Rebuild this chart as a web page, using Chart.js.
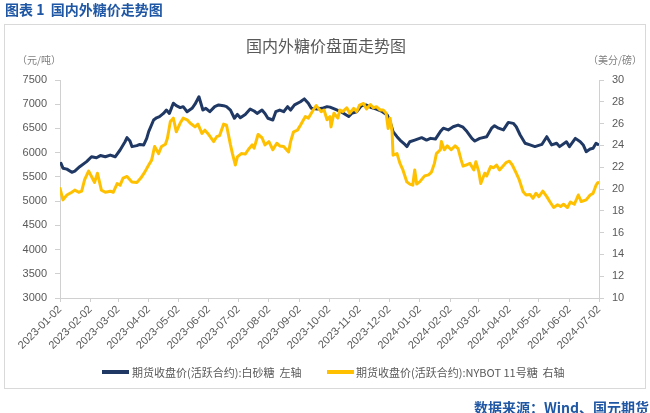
<!DOCTYPE html>
<html>
<head>
<meta charset="utf-8">
<script src="https://cdn.jsdelivr.net/npm/chart.js@4/dist/chart.umd.min.js"></script>
<style>
  html, body { margin:0; padding:0; background:#fff; }
  #wrap { position:relative; width:650px; height:413px; overflow:hidden; font-family:"Noto Sans CJK SC","Noto Sans",sans-serif; }
  #c { position:absolute; left:0; top:0; }
  .t { position:absolute; white-space:nowrap; }
  #box { position:absolute; left:4px; top:24px; width:642px; height:365px; border:1px solid #d9d9d9; box-sizing:border-box; }
  .sw { position:absolute; height:4px; }
</style>
</head>
<body>
<div id="wrap">
  <div id="box"></div>
  <canvas id="c" width="650" height="413"></canvas>
  <div class="t" style="left:5px;top:0px;font-size:14px;line-height:18px;font-weight:bold;color:#1f57a4;">图表 1&nbsp;&nbsp;国内外糖价走势图</div>
  <div class="t" style="left:0;width:652px;text-align:center;top:35px;font-size:16px;line-height:20px;color:#595959;">国内外糖价盘面走势图</div>
  <div class="t" style="left:17px;top:53px;font-size:10px;line-height:14px;color:#7f7f7f;">（元/吨）</div>
  <div class="t" style="left:588px;top:53px;font-size:10px;line-height:14px;color:#7f7f7f;">（美分/磅）</div>
  <div class="sw" style="left:102px;top:370px;width:27px;background:#1f3864;"></div>
  <div class="t" style="left:132px;top:364px;font-size:11px;line-height:16px;color:#595959;">期货收盘价(活跃合约):白砂糖&nbsp;&nbsp;左轴</div>
  <div class="sw" style="left:327px;top:370px;width:27px;background:#ffc000;"></div>
  <div class="t" style="left:356px;top:364px;font-size:11px;line-height:16px;color:#595959;">期货收盘价(活跃合约):NYBOT 11号糖&nbsp;&nbsp;右轴</div>
  <div class="t" style="right:1px;top:398px;font-size:14px;line-height:18px;font-weight:bold;color:#1f57a4;">数据来源：Wind、国元期货</div>
</div>
<script>
const monthTicks = ['2023-01-02','2023-02-02','2023-03-02','2023-04-02','2023-05-02','2023-06-02','2023-07-02','2023-08-02','2023-09-02','2023-10-02','2023-11-02','2023-12-02','2024-01-02','2024-02-02','2024-03-02','2024-04-02','2024-05-02','2024-06-02','2024-07-02'];

const sugarDates = ['2023-01-03','2023-01-05','2023-01-09','2023-01-14','2023-01-17','2023-01-22','2023-01-29','2023-02-03','2023-02-08','2023-02-12','2023-02-17','2023-02-22','2023-02-27','2023-03-04','2023-03-09','2023-03-11','2023-03-14','2023-03-16','2023-03-21','2023-03-24','2023-03-28','2023-03-31','2023-04-02','2023-04-07','2023-04-10','2023-04-13','2023-04-17','2023-04-20','2023-04-23','2023-04-25','2023-04-27','2023-04-30','2023-05-04','2023-05-07','2023-05-11','2023-05-16','2023-05-19','2023-05-23','2023-05-27','2023-05-30','2023-06-03','2023-06-08','2023-06-12','2023-06-17','2023-06-20','2023-06-24','2023-06-28','2023-07-01','2023-07-04','2023-07-09','2023-07-14','2023-07-18','2023-07-21','2023-07-26','2023-07-29','2023-08-01','2023-08-06','2023-08-09','2023-08-13','2023-08-17','2023-08-21','2023-08-24','2023-08-28','2023-09-03','2023-09-07','2023-09-11','2023-09-14','2023-09-20','2023-09-25','2023-09-30','2023-10-03','2023-10-08','2023-10-15','2023-10-22','2023-10-25','2023-10-30','2023-11-04','2023-11-09','2023-11-14','2023-11-19','2023-11-24','2023-11-30','2023-12-03','2023-12-06','2023-12-10','2023-12-13','2023-12-18','2023-12-20','2023-12-23','2023-12-28','2024-01-04','2024-01-09','2024-01-13','2024-01-18','2024-01-23','2024-01-26','2024-01-31','2024-02-05','2024-02-10','2024-02-15','2024-02-19','2024-02-24','2024-02-27','2024-03-03','2024-03-10','2024-03-15','2024-03-18','2024-03-22','2024-03-27','2024-04-01','2024-04-06','2024-04-09','2024-04-13','2024-04-18','2024-04-23','2024-04-28','2024-05-05','2024-05-10','2024-05-15','2024-05-20','2024-05-23','2024-05-30','2024-06-02','2024-06-08','2024-06-13','2024-06-16','2024-06-19','2024-06-23','2024-06-26','2024-06-29','2024-07-01'];
const sugarValues = [5780,5680,5660,5595,5620,5710,5815,5915,5895,5940,5915,5950,5915,6055,6225,6310,6240,6125,6145,6170,6160,6295,6435,6675,6720,6745,6810,6880,6810,6915,7020,6970,6930,6950,6845,6915,7000,7155,6880,6915,6845,6950,6985,6970,6950,6880,6710,6790,6720,6790,6900,6860,6810,6880,6810,6710,6675,6845,6880,6845,6950,6880,6985,7050,7110,7020,6915,6900,6915,6950,6940,6900,6835,6745,6810,6845,6970,6985,6930,6900,6860,6780,6640,6435,6330,6260,6170,6125,6225,6260,6310,6260,6295,6280,6435,6505,6470,6535,6570,6525,6435,6295,6240,6295,6330,6505,6555,6505,6470,6625,6605,6535,6365,6195,6160,6125,6170,6330,6160,6195,6125,6225,6125,6295,6225,6160,6020,6075,6090,6195,6170];

const nybotDates = ['2023-01-02','2023-01-05','2023-01-09','2023-01-14','2023-01-17','2023-01-21','2023-01-24','2023-01-27','2023-01-31','2023-02-03','2023-02-06','2023-02-09','2023-02-13','2023-02-17','2023-02-22','2023-02-25','2023-03-01','2023-03-04','2023-03-07','2023-03-11','2023-03-16','2023-03-21','2023-03-25','2023-03-29','2023-04-02','2023-04-05','2023-04-08','2023-04-12','2023-04-15','2023-04-19','2023-04-21','2023-04-24','2023-04-27','2023-04-30','2023-05-04','2023-05-07','2023-05-11','2023-05-14','2023-05-19','2023-05-22','2023-05-26','2023-05-29','2023-06-01','2023-06-07','2023-06-10','2023-06-13','2023-06-17','2023-06-20','2023-06-24','2023-06-26','2023-06-29','2023-07-01','2023-07-05','2023-07-09','2023-07-12','2023-07-16','2023-07-18','2023-07-22','2023-07-26','2023-07-29','2023-08-02','2023-08-06','2023-08-10','2023-08-13','2023-08-17','2023-08-22','2023-08-24','2023-08-27','2023-08-31','2023-09-03','2023-09-08','2023-09-11','2023-09-16','2023-09-19','2023-09-24','2023-09-27','2023-09-30','2023-10-03','2023-10-04','2023-10-07','2023-10-11','2023-10-13','2023-10-16','2023-10-20','2023-10-23','2023-10-27','2023-10-30','2023-11-02','2023-11-06','2023-11-09','2023-11-13','2023-11-16','2023-11-19','2023-11-23','2023-11-26','2023-11-29','2023-12-01','2023-12-03','2023-12-05','2023-12-06','2023-12-10','2023-12-13','2023-12-16','2023-12-20','2023-12-23','2023-12-26','2023-12-28','2023-12-30','2024-01-02','2024-01-07','2024-01-11','2024-01-14','2024-01-17','2024-01-19','2024-01-23','2024-01-24','2024-01-27','2024-01-30','2024-02-03','2024-02-07','2024-02-10','2024-02-13','2024-02-15','2024-02-18','2024-02-22','2024-02-26','2024-02-28','2024-03-02','2024-03-04','2024-03-08','2024-03-10','2024-03-14','2024-03-17','2024-03-20','2024-03-23','2024-03-26','2024-03-30','2024-04-02','2024-04-05','2024-04-09','2024-04-12','2024-04-16','2024-04-19','2024-04-23','2024-04-26','2024-04-29','2024-05-02','2024-05-06','2024-05-10','2024-05-13','2024-05-17','2024-05-21','2024-05-24','2024-05-27','2024-05-31','2024-06-03','2024-06-07','2024-06-11','2024-06-14','2024-06-19','2024-06-23','2024-06-26','2024-06-29','2024-07-01'];
const nybotValues = [20.05,19.0,19.45,19.7,19.9,19.7,19.8,20.85,21.65,21.15,20.6,21.45,19.9,19.7,19.8,19.7,20.5,20.35,21.0,21.15,20.65,20.6,21.0,21.55,22.2,22.65,23.9,23.25,23.9,24.1,24.65,26.2,26.5,25.25,26.05,26.5,26.35,26.05,25.7,25.95,25.1,25.4,25.1,24.35,24.8,24.9,25.95,25.85,24.05,23.25,22.2,22.95,23.25,23.2,23.6,24.05,23.75,25.0,24.7,24.05,24.35,23.6,24.2,23.95,23.9,23.4,24.35,25.25,25.4,25.85,26.65,26.5,27.25,27.65,27.1,27.25,26.35,26.65,25.7,26.95,26.5,27.25,27.1,27.45,26.95,27.4,27.1,27.7,27.85,27.35,27.75,27.45,27.55,27.25,27.25,26.95,25.55,26.5,25.25,23.1,23.25,22.35,21.75,20.65,20.45,20.35,21.75,20.45,20.65,21.2,21.3,21.55,22.35,23.25,23.6,24.35,23.6,23.95,23.6,23.95,23.7,22.7,22.1,22.2,22.35,21.75,22.5,21.6,20.5,21.45,21.2,22.05,21.95,22.2,21.75,22.05,22.45,22.55,22.2,21.45,20.85,19.75,19.45,19.5,19.15,19.6,19.3,19.8,19.3,18.85,18.3,18.55,18.4,18.6,18.3,18.8,18.6,19.45,18.85,19.0,19.45,19.6,20.35,20.6];

const leftMin = 3000, leftMax = 7500, leftStep = 500;
const rightMin = 10, rightMax = 30, rightStep = 2;

const origin = Date.UTC(2023, 0, 2);
function dayOf(s) {
  const p = s.split('-').map(Number);
  return (Date.UTC(p[0], p[1] - 1, p[2]) - origin) / 86400000;
}
const tickDays = monthTicks.map(dayOf);
const labelByDay = {};
monthTicks.forEach((s, i) => { labelByDay[tickDays[i]] = s; });

const sugarData = sugarDates.map((d, i) => ({ x: dayOf(d), y: sugarValues[i] }));
const nybotData = nybotDates.map((d, i) => ({ x: dayOf(d), y: nybotValues[i] }));

const axisGrey = '#d0d0d0';
const txt = '#595959';
const numFont = { family: '"Liberation Sans", Arial, sans-serif', size: 11 };

new Chart(document.getElementById('c'), {
  type: 'line',
  data: {
    datasets: [
      { label: '期货收盘价(活跃合约):白砂糖 左轴', data: sugarData, yAxisID: 'yL',
        borderColor: '#1f3864', borderWidth: 3, pointRadius: 0, tension: 0, order: 2,
        borderJoinStyle: 'round', borderCapStyle: 'round' },
      { label: '期货收盘价(活跃合约):NYBOT 11号糖 右轴', data: nybotData, yAxisID: 'yR',
        borderColor: '#ffc000', borderWidth: 3, pointRadius: 0, tension: 0, order: 1,
        borderJoinStyle: 'round', borderCapStyle: 'round' }
    ]
  },
  options: {
    responsive: false,
    animation: false,
    devicePixelRatio: 1,
    layout: { autoPadding: false, padding: { left: 0, right: 0, top: 80, bottom: 0 } },
    plugins: { legend: { display: false }, tooltip: { enabled: false }, title: { display: false } },
    scales: {
      x: {
        type: 'linear',
        min: 0, max: tickDays[tickDays.length - 1],
        afterBuildTicks: (s) => { s.ticks = tickDays.map(v => ({ value: v })); },
        afterFit: (s) => { s.height = 115; },
        grid: { drawOnChartArea: false, drawTicks: true, tickLength: 4, color: axisGrey },
        border: { display: true, color: axisGrey, width: 1 },
        ticks: {
          autoSkip: false, maxRotation: 45, minRotation: 45, padding: 1,
          color: txt, font: numFont,
          callback: (v) => labelByDay[v] || ''
        }
      },
      yL: {
        position: 'left', min: leftMin, max: leftMax,
        afterFit: (s) => { s.width = 60; },
        afterBuildTicks: (s) => { const t = []; for (let v = leftMin; v <= leftMax; v += leftStep) t.push({ value: v }); s.ticks = t; },
        grid: { drawOnChartArea: false, tickLength: 5, color: axisGrey },
        border: { display: true, color: axisGrey, width: 1 },
        ticks: { color: txt, font: numFont, padding: 8, callback: (v) => String(v) }
      },
      yR: {
        position: 'right', min: rightMin, max: rightMax,
        afterFit: (s) => { s.width = 51; },
        afterBuildTicks: (s) => { const t = []; for (let v = rightMin; v <= rightMax; v += rightStep) t.push({ value: v }); s.ticks = t; },
        grid: { drawOnChartArea: false, tickLength: 5, color: axisGrey },
        border: { display: true, color: axisGrey, width: 1 },
        ticks: { color: txt, font: numFont, padding: 8, callback: (v) => String(v) }
      }
    }
  }
});
</script>
</body>
</html>
